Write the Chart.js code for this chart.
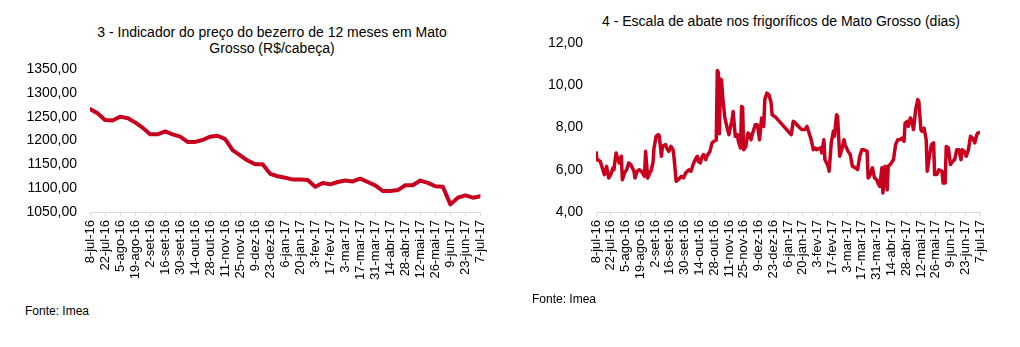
<!DOCTYPE html>
<html>
<head>
<meta charset="utf-8">
<script src="https://cdn.jsdelivr.net/npm/chart.js@4"></script>
<style>
  body { margin: 0; background: #fff; font-family: 'Liberation Sans', Arial, sans-serif; color: #000; }
  .box { position: absolute; }
  .titulo { position: absolute; font-size: 14px; line-height: 16px; text-align: center; white-space: nowrap; transform: translateX(-50%); }
  .fonte { position: absolute; font-size: 12px; line-height: 14px; }
</style>
</head>
<body>
<div class="titulo" style="left:272px; top:24px;">3 - Indicador do preço do bezerro de 12 meses em Mato<br>Grosso (R$/cabeça)</div>
<div class="titulo" style="left:781px; top:13px;">4 - Escala de abate nos frigoríficos de Mato Grosso (dias)</div>
<div class="box" style="left:0; top:0;"><canvas id="preco-chart" width="500" height="300"></canvas></div>
<div class="box" style="left:500px; top:0;"><canvas id="escala-chart" width="520" height="300"></canvas></div>
<div class="fonte" style="left:25px; top:304px;">Fonte: Imea</div>
<div class="fonte" style="left:532px; top:292px;">Fonte: Imea</div>

<script>
// rótulos do eixo x (a cada 14 dias a partir de 8-jul-16)
const rotulosDatas = [
  '8-jul-16', '22-jul-16', '5-ago-16', '19-ago-16', '2-set-16', '16-set-16', '30-set-16',
  '14-out-16', '28-out-16', '11-nov-16', '25-nov-16', '9-dez-16', '23-dez-16', '6-jan-17',
  '20-jan-17', '3-fev-17', '17-fev-17', '3-mar-17', '17-mar-17', '31-mar-17', '14-abr-17',
  '28-abr-17', '12-mai-17', '26-mai-17', '9-jun-17', '23-jun-17', '7-jul-17'
];

// 3 - preço do bezerro (R$/cabeça), semanal
const precoValores = [
  1266, 1257, 1243, 1242, 1250, 1247, 1238, 1227, 1213, 1213,
  1219, 1213, 1208, 1197, 1197, 1201, 1208, 1210, 1203, 1180,
  1169, 1158, 1150, 1150, 1130, 1125, 1122, 1118, 1118, 1117,
  1103, 1111, 1108, 1113, 1116, 1114, 1120, 1113, 1106, 1094,
  1094, 1096, 1106, 1106, 1116, 1111, 1104, 1103, 1066, 1080,
  1085, 1080, 1083
];

// 4 - escala de abate (dias), dias desde 8-jul-16
const escalaDias = [
  0, 1, 4, 6, 8, 10, 12, 14, 16, 17, 19, 20, 22, 24, 25, 27, 29, 31, 33, 36,
  37, 39, 41, 43, 46, 47, 49, 51, 52, 54, 55, 57, 59, 60, 62, 63, 66, 67, 69, 71,
  73, 74, 76, 78, 81, 83, 85, 88, 90, 92, 94, 96, 97, 99, 100, 102, 104, 105, 107, 108,
  110, 112, 114, 115, 116, 117, 118, 119, 120, 122, 124, 126, 127, 129, 130, 132, 134, 135, 137, 138,
  139, 140, 142, 144, 145, 147, 148, 151, 153, 155, 157, 159, 160, 162, 164, 166, 167, 170, 185, 187,
  189, 192, 195, 198, 200, 202, 204, 206, 208, 209, 213, 214, 216, 217, 220, 221, 223, 225, 226, 228,
  229, 231, 233, 235, 236, 239, 241, 243, 246, 248, 250, 252, 254, 257, 258, 260, 262, 264, 266, 268,
  269, 271, 272, 274, 276, 277, 279, 282, 284, 286, 288, 290, 292, 293, 295, 296, 298, 299, 301, 303,
  305, 306, 308, 309, 311, 313, 314, 316, 318, 320, 321, 323, 325, 328, 329, 331, 332, 334, 336, 338,
  340, 342, 344, 346, 347, 349, 351, 353, 355, 357, 359, 361, 362, 364
];
const escalaValores = [
  6.87, 6.48, 6.40, 6.08, 5.77, 6.16, 5.61, 5.77, 6.08, 6.00, 6.79, 6.64, 6.32, 6.64, 5.53, 5.85, 6.00, 6.32, 6.24, 5.93,
  5.61, 5.93, 6.00, 5.93, 5.69, 6.87, 5.61, 5.85, 5.93, 6.32, 7.03, 7.58, 7.66, 7.60, 6.64, 7.11, 7.19, 7.03, 6.87, 7.11,
  6.95, 6.56, 5.45, 5.53, 5.69, 5.61, 5.85, 6.00, 5.93, 6.24, 6.48, 6.64, 6.40, 6.32, 6.56, 6.72, 6.48, 6.64, 6.79, 6.87,
  7.27, 7.35, 7.40, 10.70, 10.60, 7.70, 10.30, 10.25, 9.50, 8.50, 8.05, 7.66, 7.90, 8.37, 8.76, 7.58, 7.66, 7.35, 7.03, 9.00,
  8.95, 6.95, 7.10, 7.74, 7.70, 7.42, 7.66, 8.13, 8.13, 7.42, 8.45, 8.05, 9.32, 9.63, 9.55, 9.16, 8.60, 8.50, 7.66, 8.29,
  8.21, 8.05, 7.90, 7.90, 8.05, 7.74, 7.42, 6.95, 7.03, 6.95, 7.03, 6.80, 7.42, 6.48, 6.17, 5.93, 7.27, 7.82, 7.58, 8.60,
  8.53, 6.64, 6.95, 7.42, 7.20, 6.87, 6.72, 6.17, 6.09, 6.01, 6.64, 6.95, 6.95, 6.87, 5.61, 5.77, 6.09, 5.61, 5.53, 5.29,
  5.21, 6.09, 4.90, 6.17, 5.05, 6.17, 6.25, 6.48, 7.19, 7.42, 7.42, 7.50, 7.35, 8.21, 8.29, 8.05, 8.45, 8.37, 7.90, 8.84,
  9.32, 9.24, 7.90, 7.82, 7.97, 7.42, 5.93, 6.64, 7.19, 7.27, 5.77, 5.77, 6.00, 5.93, 5.37, 5.37, 7.10, 7.03, 6.25, 6.40,
  6.48, 6.95, 6.95, 6.48, 6.95, 6.87, 6.64, 6.95, 7.58, 7.50, 7.27, 7.66, 7.74, 7.77
];

const FONTE = "'Liberation Sans', Arial, sans-serif";
const VERMELHO = '#c8001e';
const CINZA = '#d9d9d9';

const virgula = (v) => v.toFixed(2).replace('.', ',');

function eixoX() {
  return {
    type: 'linear',
    min: 0,
    max: 364,
    afterBuildTicks: (scale) => {
      scale.ticks = rotulosDatas.map((_, i) => ({ value: i * 14 }));
    },
    afterFit: (scale) => { scale.height = 88; },
    ticks: {
      autoSkip: false,
      minRotation: 90,
      maxRotation: 90,
      padding: 4,
      color: '#000',
      font: { family: FONTE, size: 13 },
      callback: (v) => rotulosDatas[Math.round(v / 14)]
    },
    grid: { drawOnChartArea: false, drawTicks: true, tickLength: 4, color: CINZA },
    border: { display: true, color: CINZA, width: 1 }
  };
}

function eixoY(min, max, step, largura) {
  return {
    min, max,
    afterFit: (scale) => { scale.width = largura; },
    ticks: {
      stepSize: step,
      padding: 13,
      color: '#000',
      font: { family: FONTE, size: 14 },
      callback: (v) => virgula(v)
    },
    grid: { display: false, drawTicks: false },
    border: { display: false }
  };
}

// ─── Linha: preço do bezerro ───────────────────────────────────────────
new Chart(document.getElementById('preco-chart'), {
  type: 'line',
  data: {
    datasets: [{
      data: precoValores.map((v, i) => ({ x: i * 7, y: v })),
      borderColor: VERMELHO,
      borderWidth: 4,
      pointRadius: 0,
      tension: 0,
      borderJoinStyle: 'round',
      borderCapStyle: 'round'
    }]
  },
  options: {
    responsive: false,
    animation: false,
    devicePixelRatio: 1,
    layout: { padding: { top: 69, right: 13, bottom: 0, left: 0 } },
    plugins: { legend: { display: false }, tooltip: { enabled: false } },
    scales: { x: eixoX(), y: eixoY(1050, 1350, 50, 90) }
  }
});

// ─── Linha: escala de abate ────────────────────────────────────────────
new Chart(document.getElementById('escala-chart'), {
  type: 'line',
  data: {
    datasets: [{
      data: escalaDias.map((d, i) => ({ x: d, y: escalaValores[i] })),
      borderColor: VERMELHO,
      borderWidth: 3.5,
      pointRadius: 0,
      tension: 0,
      borderJoinStyle: 'round'
    }]
  },
  options: {
    responsive: false,
    animation: false,
    devicePixelRatio: 1,
    layout: { padding: { top: 43, right: 40, bottom: 0, left: 0 } },
    plugins: { legend: { display: false }, tooltip: { enabled: false } },
    scales: { x: eixoX(), y: eixoY(4, 12, 2, 96) }
  }
});
</script>
</body>
</html>
